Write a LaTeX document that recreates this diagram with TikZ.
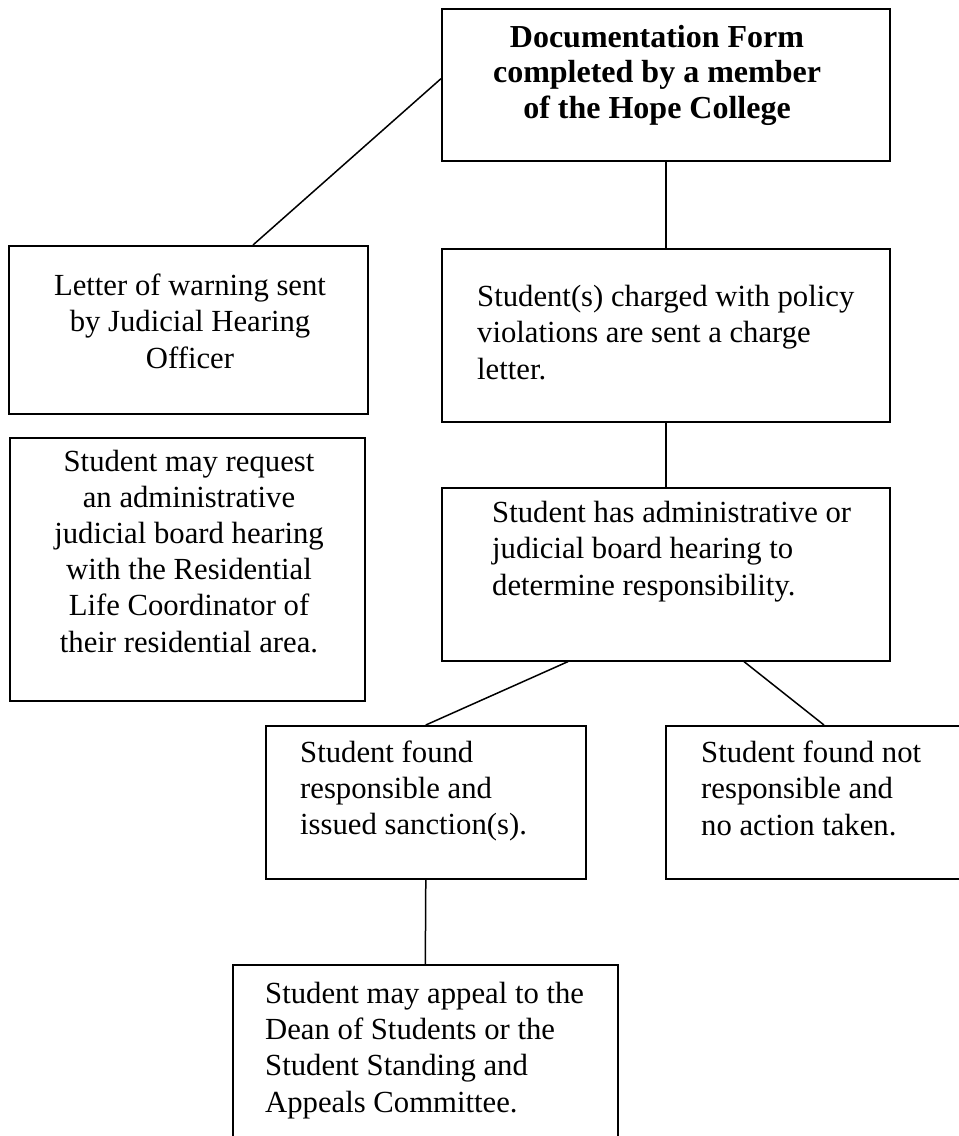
\documentclass[tikz,border=0pt]{standalone}
\usepackage{fontspec}
\setmainfont{Liberation Serif}
\usetikzlibrary{calc}
\begin{document}
\begin{tikzpicture}[x=1pt,y=-1pt,
  boxnode/.style={draw=black, line width=1.6pt, inner sep=0pt, anchor=north west},
  txt/.style={inner sep=0pt, font=\fontsize{30.7}{36.2}\selectfont},
  txtl/.style={txt, align=left, anchor=base west},
  txtc/.style={txt, align=center, anchor=base},
  conn/.style={line width=1.5pt}]
\useasboundingbox (0,0) rectangle (959,1136);
\clip (0,0) rectangle (959,1136);
% boxes
\node[boxnode, minimum width=448pt, minimum height=152pt] (top) at (441,8) {};
\node[boxnode, minimum width=359pt, minimum height=168pt] (letter) at (8,245) {};
\node[boxnode, minimum width=448pt, minimum height=173pt] (charged) at (441,248) {};
\node[boxnode, minimum width=355pt, minimum height=263pt] (request) at (9,437) {};
\node[boxnode, minimum width=448pt, minimum height=173pt] (hearing) at (441,487) {};
\node[boxnode, minimum width=320pt, minimum height=153pt] (resp) at (265,725) {};
\node[boxnode, minimum width=301pt, minimum height=153pt] (notresp) at (665,725) {};
\node[boxnode, minimum width=385pt, minimum height=200pt] (appeal) at (232,964) {};
% texts (base anchor = baseline of the last line)
\node[txtc, font=\fontsize{32}{35.7}\selectfont\bfseries] (toptext) at (657,118.4)
  {Documentation Form\\completed by a member\\of the Hope College};
\node[txtc] (lettertext) at (190,368) {Letter of warning sent\\by Judicial Hearing\\Officer};
\node[txtl] (chargedtext) at (477,379) {Student(s) charged with policy\\violations are sent a charge\\letter.};
\node[txtc] (requesttext) at (189,652) {Student may request\\an administrative\\judicial board hearing\\with the Residential\\Life Coordinator of\\their residential area.};
\node[txtl] (hearingtext) at (492,595) {Student has administrative or\\judicial board hearing to\\determine responsibility.};
\node[txtl] (resptext) at (300,834.5) {Student found\\responsible and\\issued sanction(s).};
\node[txtl] (notresptext) at (701,835) {Student found not\\responsible and\\no action taken.};
\node[txtl] (appealtext) at (265,1112) {Student may appeal to the\\Dean of Students or the\\Student Standing and\\Appeals Committee.};
% connectors
\draw[conn] ($(top.north west)!0.46!(top.south west)$) -- ([xshift=245pt]letter.north west);
\draw[conn] (top.south) -- (charged.north);
\draw[conn] (charged.south) -- (hearing.north);
\draw[conn] ([xshift=127pt]hearing.south west) -- (resp.north);
\draw[conn] ([xshift=303pt]hearing.south west) -- ([xshift=159pt]notresp.north west);
\draw[conn] (resp.south) -- (appeal.north);
\end{tikzpicture}
\end{document}
